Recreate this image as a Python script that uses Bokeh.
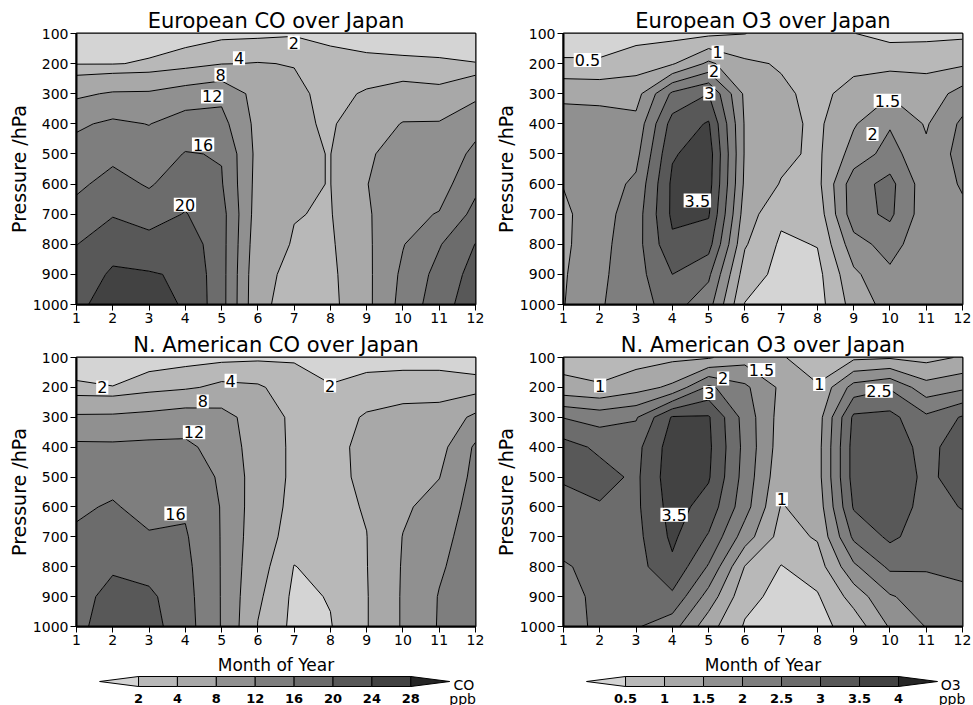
import numpy as np
from bokeh.plotting import figure
from bokeh.layouts import column, row
from bokeh.models import Range1d, FixedTicker
from bokeh.embed import file_html
from bokeh.resources import INLINE
from bokeh.core.properties import value

FONT = "DejaVu Sans"

months = [1, 2, 3, 4, 5, 6, 7, 8, 9, 10, 11, 12]
pressure = [100, 200, 300, 400, 500, 600, 700, 800, 900, 1000]

# rows = pressure levels (100 -> 1000 hPa), columns = months 1..12
eu_co = [
    [1.0, 1.0, 1.1, 1.2, 1.5, 1.6, 1.8, 1.5, 1.3, 1.2, 1.2, 1.0],
    [1.9, 1.9, 2.2, 2.9, 3.9, 4.1, 3.9, 2.7, 2.4, 2.3, 2.2, 2.05],
    [7.3, 8.4, 8.5, 9.9, 11.0, 6.5, 4.6, 3.2, 4.3, 5.2, 4.8, 7.1],
    [11.4, 12.7, 11.9, 13.7, 13.3, 6.8, 4.6, 3.6, 6.0, 8.2, 8.3, 10.6],
    [13.5, 15.0, 13.8, 16.2, 15.8, 6.8, 4.3, 3.95, 7.5, 9.5, 9.2, 13.0],
    [15.2, 17.4, 15.6, 18.2, 16.3, 6.5, 4.3, 3.95, 7.9, 10.3, 10.3, 15.0],
    [17.4, 19.7, 18.3, 20.2, 17.5, 6.0, 4.1, 3.8, 7.5, 11.0, 12.2, 17.2],
    [19.9, 22.7, 21.5, 22.4, 17.5, 5.4, 3.8, 3.5, 7.3, 11.8, 15.7, 20.1],
    [22.0, 24.5, 24.3, 23.5, 17.5, 4.8, 3.3, 3.2, 7.1, 12.8, 17.3, 21.5],
    [23.5, 25.0, 24.8, 23.8, 17.5, 4.6, 3.0, 3.0, 7.0, 13.4, 18.2, 22.5],
]

eu_o3 = [
    [0.3, 0.3, 0.3, 0.35, 0.4, 0.49, 0.7, 0.58, 0.51, 0.35, 0.35, 0.4],
    [0.55, 0.55, 0.8, 0.95, 1.6, 1.1, 0.95, 0.8, 0.85, 0.85, 0.9, 0.93],
    [1.45, 1.4, 1.3, 2.6, 3.0, 1.4, 1.1, 0.85, 1.2, 1.45, 1.2, 1.7],
    [1.6, 1.65, 1.65, 3.2, 3.55, 1.45, 1.15, 0.9, 1.45, 1.95, 1.45, 2.1],
    [1.6, 1.7, 1.85, 3.45, 3.75, 1.45, 1.12, 0.9, 1.7, 2.2, 1.6, 2.2],
    [1.52, 1.75, 2.1, 3.6, 3.7, 1.4, 0.97, 0.85, 2.3, 2.65, 1.7, 2.05],
    [1.4, 1.8, 2.25, 3.6, 3.55, 1.25, 0.6, 0.7, 2.3, 2.6, 1.7, 1.9],
    [1.4, 1.85, 2.3, 3.4, 3.2, 1.05, 0.42, 0.52, 1.8, 2.2, 1.65, 1.8],
    [1.45, 1.9, 2.3, 3.0, 2.6, 0.75, 0.35, 0.35, 1.4, 1.9, 1.6, 1.75],
    [1.48, 1.95, 2.3, 2.7, 2.2, 0.48, 0.3, 0.3, 1.2, 1.7, 1.55, 1.7],
]

na_co = [
    [1.0, 1.0, 1.1, 1.3, 1.5, 1.7, 1.8, 1.3, 1.4, 1.4, 1.4, 1.2],
    [2.3, 2.05, 3.0, 3.6, 4.6, 4.3, 2.9, 2.1, 2.6, 2.8, 2.8, 2.6],
    [8.6, 8.7, 9.2, 10.0, 9.5, 6.0, 3.3, 2.8, 4.3, 5.0, 5.2, 8.9],
    [12.8, 12.7, 12.9, 12.8, 10.5, 6.0, 3.4, 3.1, 4.8, 6.0, 6.6, 12.6],
    [13.9, 14.7, 13.6, 14.2, 11.5, 6.0, 3.4, 3.2, 4.6, 6.8, 7.9, 13.2],
    [15.4, 16.4, 14.6, 15.5, 11.8, 5.8, 3.2, 3.2, 4.2, 7.4, 9.5, 13.7],
    [16.6, 17.8, 16.4, 16.4, 11.8, 5.5, 2.8, 3.0, 3.95, 8.1, 10.7, 14.0],
    [17.5, 19.4, 18.5, 17.0, 11.8, 5.0, 1.95, 2.6, 3.9, 8.3, 11.5, 14.2],
    [18.3, 21.5, 20.8, 17.4, 11.8, 4.4, 1.6, 2.1, 3.8, 8.4, 12.2, 14.4],
    [19.0, 22.0, 21.5, 17.7, 11.8, 3.9, 1.5, 1.9, 3.8, 8.4, 12.3, 14.5],
]

na_o3 = [
    [0.8, 0.75, 0.8, 0.9, 0.95, 1.3, 1.05, 0.7, 0.9, 0.95, 0.85, 1.05],
    [1.15, 1.05, 1.3, 1.6, 2.6, 2.1, 1.4, 1.05, 2.2, 2.45, 1.7, 1.9],
    [2.48, 2.3, 2.45, 3.55, 3.55, 2.3, 1.3, 1.25, 3.1, 3.15, 2.6, 3.05],
    [3.2, 2.9, 2.85, 3.75, 3.6, 2.35, 1.25, 1.3, 3.2, 3.25, 2.85, 3.25],
    [3.05, 3.2, 2.9, 3.8, 3.55, 2.3, 1.15, 1.3, 3.2, 3.3, 2.9, 3.2],
    [2.85, 2.95, 2.9, 3.7, 3.3, 2.2, 0.97, 1.2, 3.05, 3.25, 2.85, 3.02],
    [2.7, 2.75, 2.85, 3.6, 2.95, 1.75, 0.8, 1.05, 2.6, 3.1, 2.75, 2.8],
    [2.45, 2.65, 2.8, 3.4, 2.45, 0.98, 0.48, 0.75, 1.9, 2.6, 2.55, 2.6],
    [2.35, 2.6, 2.7, 2.9, 1.8, 0.65, 0.35, 0.45, 1.2, 1.95, 2.25, 2.4],
    [2.3, 2.6, 2.55, 2.2, 1.2, 0.45, 0.3, 0.35, 0.7, 1.55, 2.02, 2.25],
]

co_levels = [2, 4, 8, 12, 16, 20, 24, 28]
o3_levels = [0.5, 1, 1.5, 2, 2.5, 3, 3.5, 4]
co_level_text = ["2", "4", "8", "12", "16", "20", "24", "28"]
o3_level_text = ["0.5", "1", "1.5", "2", "2.5", "3", "3.5", "4"]

# contour labels (month, pressure, text)
eu_co_lab_x = [6.99, 5.48, 4.97, 4.74, 4.49, 3.99]
eu_co_lab_y = [130, 182, 237, 309, 469, 669]
eu_co_lab_t = ["2", "4", "8", "12", "16", "20"]

eu_o3_lab_x = [1.66, 5.25, 5.15, 5.02, 4.69, 9.93, 9.52]
eu_o3_lab_y = [188, 163, 226, 299, 655, 323, 434]
eu_o3_lab_t = ["0.5", "1", "2", "3", "3.5", "1.5", "2"]

na_co_lab_x = [1.71, 5.25, 4.48, 4.24, 3.73, 7.99]
na_co_lab_y = [200, 178, 247, 350, 622, 194]
na_co_lab_t = ["2", "4", "8", "12", "16", "2"]

na_o3_lab_x = [2.01, 5.40, 5.02, 6.46, 8.05, 9.70, 4.05, 7.02]
na_o3_lab_y = [194, 170, 219, 142, 189, 211, 626, 574]
na_o3_lab_t = ["1", "2", "3", "1.5", "1", "2.5", "3.5", "1"]

shades = ["#d4d4d4", "#b8b8b8", "#a8a8a8", "#909090", "#7e7e7e",
          "#6c6c6c", "#585858", "#424242", "#252525"]


def panel(title, z, levels, lx, ly, lt, width, height, bl, br, bt):
    p = figure(width=width, height=height, x_range=Range1d(1, 12), y_range=Range1d(1000, 100),
               output_backend="svg", toolbar_location=None, title=title,
               min_border_left=bl, min_border_right=br, min_border_top=bt, min_border_bottom=26)
    full = [-1000.0] + list(levels) + [1000.0]
    p.contour(months, pressure, np.array(z), full, fill_color=shades,
              line_color="black", line_width=1)
    p.text(x=lx, y=ly, text=lt, text_align="center", text_baseline="middle",
           text_font=value(FONT), text_font_size="16px", text_color="black",
           background_fill_color="white", padding=1)
    p.title.text_font = FONT
    p.title.text_font_size = "21px"
    p.title.text_font_style = "normal"
    p.title.text_color = "black"
    p.title.align = "center"
    p.title.standoff = 1
    p.grid.visible = False
    p.outline_line_color = "black"
    p.outline_line_width = 2
    p.xaxis.ticker = FixedTicker(ticks=months)
    p.yaxis.ticker = FixedTicker(ticks=pressure)
    p.axis.major_tick_out = 6
    p.axis.major_tick_in = 0
    p.axis.minor_tick_out = 0
    p.axis.minor_tick_in = 0
    p.axis.axis_line_width = 2
    p.axis.axis_line_color = "black"
    p.axis.major_tick_line_width = 1
    p.axis.major_tick_line_color = "black"
    p.axis.major_label_text_font = FONT
    p.axis.major_label_text_font_size = "14px"
    p.axis.major_label_text_color = "black"
    p.axis.major_label_standoff = 2
    p.yaxis.axis_label = "Pressure /hPa"
    p.yaxis.axis_label_text_font = FONT
    p.yaxis.axis_label_text_font_size = "19px"
    p.yaxis.axis_label_text_font_style = "normal"
    p.yaxis.axis_label_text_color = "black"
    p.yaxis.axis_label_standoff = 0
    p.background_fill_color = None
    p.border_fill_color = "white"
    return p


def colorbar(width, x0, x1, ltext, name, name_x, ppb_x, mid_x):
    c = figure(width=width, height=53, x_range=Range1d(x0, x1), y_range=Range1d(0, 53),
               output_backend="svg", toolbar_location=None, min_border=0,
               x_axis_location=None, y_axis_location=None)
    c.grid.visible = False
    c.outline_line_color = None
    idx = list(range(7))
    c.quad(left=idx, right=[i + 1 for i in idx], bottom=19, top=29,
           fill_color=shades[1:8], line_color="black", line_width=1)
    c.patch([-1, 0, 0], [24, 29, 19], fill_color=shades[0], line_color="black", line_width=1)
    c.patch([7, 8, 7], [29, 24, 19], fill_color=shades[8], line_color="black", line_width=1)
    c.text(x=list(range(8)), y=[7] * 8, text=ltext, text_align="center",
           text_baseline="alphabetic", text_font=value(FONT), text_font_size="13px",
           text_font_style="bold", text_color="black")
    c.text(x=[mid_x], y=[41], text=["Month of Year"], text_align="center",
           text_baseline="alphabetic", text_font=value(FONT), text_font_size="17px",
           text_color="black")
    c.text(x=[name_x], y=[21], text=[name], text_align="left", text_baseline="alphabetic",
           text_font=value(FONT), text_font_size="14px", text_color="black")
    c.text(x=[ppb_x], y=[7], text=["ppb"], text_align="left", text_baseline="alphabetic",
           text_font=value(FONT), text_font_size="14px", text_color="black")
    return c


pA = panel("European CO over Japan", eu_co, co_levels, eu_co_lab_x, eu_co_lab_y, eu_co_lab_t,
           490, 330, 76, 15, 33)
pB = panel("European O3 over Japan", eu_o3, o3_levels, eu_o3_lab_x, eu_o3_lab_y, eu_o3_lab_t,
           483, 330, 73, 11, 33)
pC = panel("N. American CO over Japan", na_co, co_levels, na_co_lab_x, na_co_lab_y, na_co_lab_t,
           490, 322, 76, 15, 25)
pD = panel("N. American O3 over Japan", na_o3, o3_levels, na_o3_lab_x, na_o3_lab_y, na_o3_lab_t,
           483, 322, 73, 11, 25)

cL = colorbar(490, -3.548, -3.548 + 490 / 38.9, co_level_text, "CO", 8.097, 7.99, 3.534)
cR = colorbar(483, -3.462, -3.462 + 483 / 39.0, o3_level_text, "O3", 8.08, 8.03, 3.525)

layout = column(row(pA, pB), row(pC, pD), row(cL, cR))

open("out.html", "w").write(file_html(layout, INLINE))
